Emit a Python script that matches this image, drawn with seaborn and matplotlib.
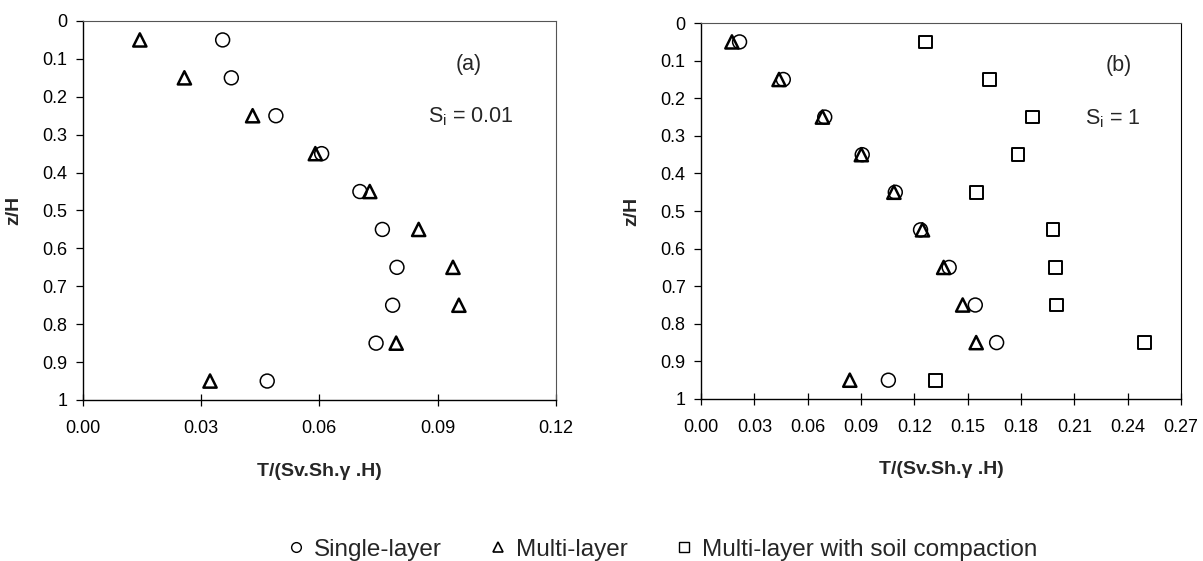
import numpy as np
import pandas as pd
import matplotlib
matplotlib.use("Agg")
import matplotlib.pyplot as plt
from matplotlib.lines import Line2D
import seaborn as sns

# ---------------- data ----------------
depth = [0.05, 0.15, 0.25, 0.35, 0.45, 0.55, 0.65, 0.75, 0.85, 0.95]

a_single = [0.0355, 0.0377, 0.0490, 0.0606, 0.0703, 0.0760, 0.0797, 0.0786, 0.0744, 0.0468]
a_multi = [0.0145, 0.0258, 0.0431, 0.0590, 0.0728, 0.0852, 0.0939, 0.0954, 0.0795, 0.0323]

b_single = [0.0217, 0.0463, 0.0696, 0.0907, 0.1093, 0.1235, 0.1396, 0.1543, 0.1663, 0.1054]
b_multi = [0.0174, 0.0439, 0.0683, 0.0902, 0.1085, 0.1246, 0.1365, 0.1472, 0.1548, 0.0837]
b_compact = [0.1263, 0.1624, 0.1867, 0.1783, 0.1552, 0.1980, 0.1993, 0.2002, 0.2493, 0.1317]

series_names = ["Single-layer", "Multi-layer", "Multi-layer with soil compaction"]
y_ticks = [0, 0.1, 0.2, 0.3, 0.4, 0.5, 0.6, 0.7, 0.8, 0.9, 1]
y_tick_labels = ["0", "0.1", "0.2", "0.3", "0.4", "0.5", "0.6", "0.7", "0.8", "0.9", "1"]
a_xticks = [0.00, 0.03, 0.06, 0.09, 0.12]
b_xticks = [0.00, 0.03, 0.06, 0.09, 0.12, 0.15, 0.18, 0.21, 0.24, 0.27]
x_label = "T/(Sv.Sh.\u03b3 .H)"
y_label = "z/H"

# ---------------- style ----------------
sns.set_style("white")
plt.rcParams["font.family"] = ["Liberation Sans", "DejaVu Sans"]

fig = plt.figure(figsize=(12.03, 5.61), dpi=100)
axA = fig.add_axes([0.0687, 0.287, 0.3934, 0.6756])
axB = fig.add_axes([0.5827, 0.2888, 0.399, 0.670])

marker_style = {
    "Single-layer": dict(marker="o", s=100, linewidth=1.1),
    "Multi-layer": dict(marker="^", s=90, linewidth=1.8),
    "Multi-layer with soil compaction": dict(marker="s", s=85, linewidth=1.4),
}


def draw(ax, data):
    for name, vals in data.items():
        df = pd.DataFrame({"x": vals, "z": depth})
        st = marker_style[name]
        sns.scatterplot(data=df, x="x", y="z", marker=st["marker"], s=st["s"],
                        facecolor="none", edgecolor="black",
                        linewidth=st["linewidth"], ax=ax, legend=False, zorder=3)


draw(axA, {"Single-layer": a_single, "Multi-layer": a_multi})
draw(axB, {"Single-layer": b_single, "Multi-layer": b_multi,
           "Multi-layer with soil compaction": b_compact})


def style_axes(ax, xticks):
    ax.set_xlim(xticks[0], xticks[-1])
    ax.set_ylim(1, 0)
    ax.set_xticks(xticks)
    ax.set_xticklabels([f"{t:.2f}" for t in xticks])
    ax.set_yticks(y_ticks)
    ax.set_yticklabels(y_tick_labels)
    ax.tick_params(axis="x", direction="inout", length=9, width=0.9, labelsize=13,
                   pad=10, colors="black", bottom=True)
    ax.tick_params(axis="y", direction="out", length=5, width=0.9, labelsize=13,
                   pad=6, colors="black", left=True)
    for side in ["left", "bottom"]:
        ax.spines[side].set_color("black")
        ax.spines[side].set_linewidth(1.0)
    for side in ["top", "right"]:
        ax.spines[side].set_color("#555555")
        ax.spines[side].set_linewidth(0.8)
    ax.set_xlabel(x_label, fontsize=14, fontweight="bold")
    ax.set_ylabel(y_label, fontsize=14, fontweight="bold")
    ax.xaxis.set_label_coords(0.5, -0.165)
    ax.yaxis.set_label_coords(-0.127, 0.5)


style_axes(axA, a_xticks)
style_axes(axB, b_xticks)
axB.spines["right"].set_color("black")

axA.text(0.815, 0.884, "(a)", transform=axA.transAxes, fontsize=15.5,
         ha="center", va="center")
axA.text(0.82, 0.747, "S$_\\mathregular{i}$ = 0.01", transform=axA.transAxes,
         fontsize=15.5, ha="center", va="center")
axB.text(0.871, 0.888, "(b)", transform=axB.transAxes, fontsize=15.5,
         ha="center", va="center")
axB.text(0.858, 0.747, "S$_\\mathregular{i}$ = 1", transform=axB.transAxes,
         fontsize=15.5, ha="center", va="center")

handles = [
    Line2D([], [], marker="o", linestyle="none", markerfacecolor="none",
           markeredgecolor="black", markersize=7, markeredgewidth=1.0),
    Line2D([], [], marker="^", linestyle="none", markerfacecolor="none",
           markeredgecolor="black", markersize=7.5, markeredgewidth=1.2),
    Line2D([], [], marker="s", linestyle="none", markerfacecolor="none",
           markeredgecolor="black", markersize=7, markeredgewidth=1.0),
]
fig.legend(handles, series_names, ncol=3, loc="center",
           bbox_to_anchor=(0.549, 0.02), frameon=False, fontsize=17.5,
           handletextpad=0.25, columnspacing=1.8, handlelength=1.0)

fig.savefig("out.png", dpi=100)
